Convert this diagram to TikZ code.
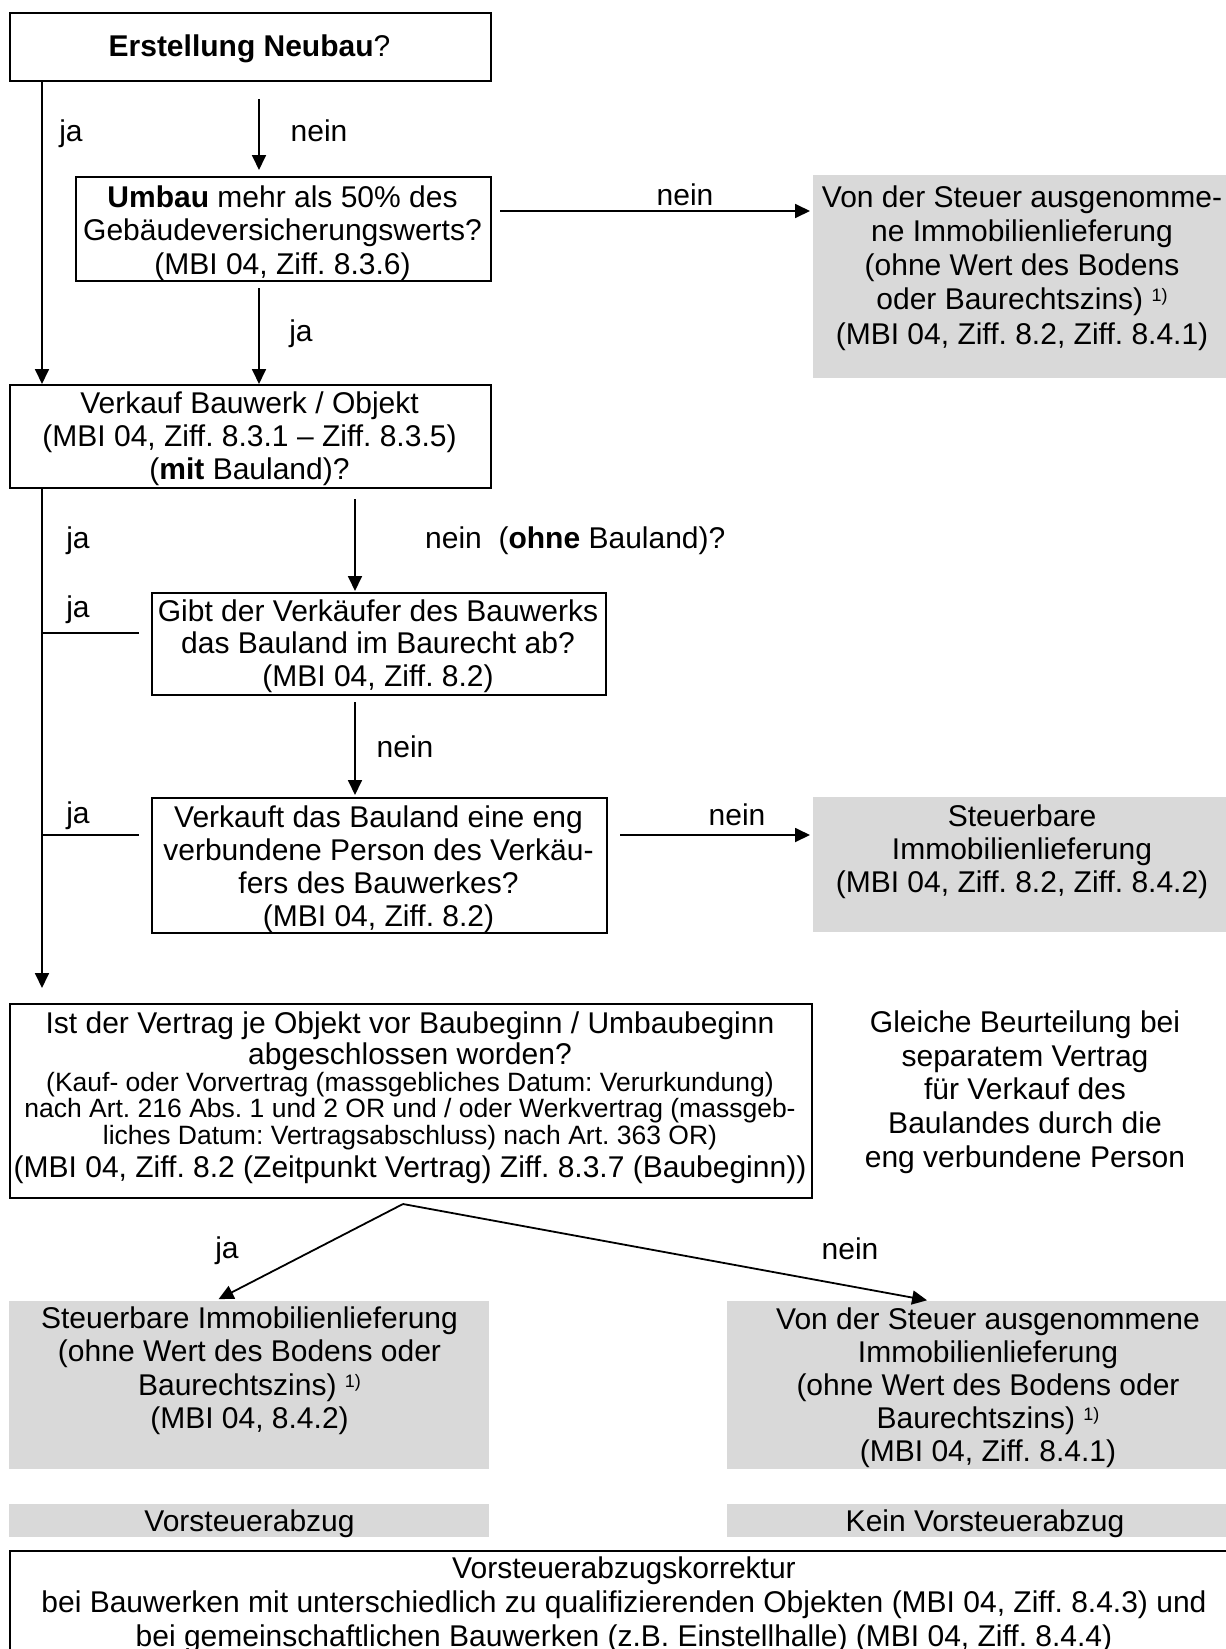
\documentclass[tikz,border=0pt]{standalone}
\usepackage{fontspec}
\setmainfont{Liberation Sans}
\usetikzlibrary{arrows.meta,calc}
\definecolor{boxgrey}{RGB}{217,217,217}
\newcommand{\topstrut}{\rule{0pt}{24pt}}
\newcommand{\fnmark}{\raisebox{8pt}{\fontsize{18}{18}\selectfont 1)}}
\frenchspacing
\tikzset{
  box/.style={draw, line width=2pt, inner sep=0pt, anchor=north west},
  greybox/.style={fill=boxgrey, draw=none, inner sep=0pt, anchor=north west},
  txt/.style={align=center, inner sep=0pt, anchor=north, font=\fontsize{30}{34}\selectfont},
  lbl/.style={inner sep=0pt, anchor=base, font=\fontsize{30}{34}\selectfont},
  arr/.style={line width=1.8pt, -{Triangle[length=15pt,width=14pt]}},
  ln/.style={line width=1.8pt},
}
\begin{document}
\begin{tikzpicture}[x=1pt,y=-1pt]
\useasboundingbox (0,0) rectangle (1226,1649);
\clip (0,0) rectangle (1226,1649);
\fill[white] (0,0) rectangle (1226,1649);

% boxes
\node[box, minimum width=481pt, minimum height=68pt] (neubau) at (9,12) {};
\node[box, minimum width=415pt, minimum height=104pt] (umbau) at (75,176) {};
\node[box, minimum width=481pt, minimum height=103pt] (verkauf) at (9,384) {};
\node[box, minimum width=454pt, minimum height=102pt] (gibt) at (151,592) {};
\node[box, minimum width=455pt, minimum height=135pt] (verkauft) at (151,797) {};
\node[box, minimum width=802pt, minimum height=194pt] (ist) at (9,1003) {};
\node[greybox, minimum width=427pt, minimum height=203pt] (grey1) at (813,175) {};
\node[greybox, minimum width=427pt, minimum height=135pt] (grey2) at (813,797) {};
\node[greybox, minimum width=480pt, minimum height=168pt] (grey3) at (9,1301) {};
\node[greybox, minimum width=513pt, minimum height=168pt] (grey4) at (727,1301) {};
\node[greybox, minimum width=480pt, minimum height=33pt] (vorst) at (9,1504) {};
\node[greybox, minimum width=513pt, minimum height=33pt] (kein) at (727,1504) {};
\node[box, minimum width=1231pt, minimum height=120pt] (korr) at (9,1550) {};

% texts
\node[txt] (neubaut) at (249.5,32.5) {\topstrut\textbf{Erstellung Neubau}?};
\node[txt, font=\fontsize{30}{33.5}\selectfont] (umbaut) at (282.5,183)
  {\topstrut\textbf{Umbau} mehr als 50\% des\\Gebäudeversicherungswerts?\\(MBI 04, Ziff. 8.3.6)};
\node[txt, font=\fontsize{30}{33}\selectfont] (verkauft0) at (249.5,389)
  {\topstrut Verkauf Bauwerk / Objekt\\(MBI 04, Ziff. 8.3.1 – Ziff. 8.3.5)\\(\textbf{mit} Bauland)?};
\node[txt, font=\fontsize{30}{32.5}\selectfont] (gibtt) at (378,597)
  {\topstrut Gibt der Verkäufer des Bauwerks\\das Bauland im Baurecht ab?\\(MBI 04, Ziff. 8.2)};
\node[txt, font=\fontsize{30}{33}\selectfont] (verkaufttt) at (378.5,803)
  {\topstrut Verkauft das Bauland eine eng\\verbundene Person des Verkäu-\\fers des Bauwerkes?\\(MBI 04, Ziff. 8.2)};
\node[txt, font=\fontsize{30}{30}\selectfont] (istt) at (410,1009)
  {\topstrut Ist der Vertrag je Objekt vor Baubeginn / Umbaubeginn\\[1pt]
   abgeschlossen worden?\\[-3pt]
   {\fontsize{26.5}{27}\selectfont (Kauf- oder Vorvertrag (massgebliches Datum: Verurkundung)}\\[-4pt]
   {\fontsize{26.5}{27}\selectfont nach Art. 216 Abs. 1 und 2 OR und / oder Werkvertrag (massgeb-}\\[-3pt]
   {\fontsize{26.5}{27}\selectfont liches Datum: Vertragsabschluss) nach Art. 363 OR)}\\[3pt]
   (MBI 04, Ziff. 8.2 (Zeitpunkt Vertrag) Ziff. 8.3.7 (Baubeginn))};
\node[txt, font=\fontsize{30}{33.8}\selectfont] (gleich) at (1025,1008)
  {\topstrut Gleiche Beurteilung bei\\separatem Vertrag\\für Verkauf des\\Baulandes durch die\\eng verbundene Person};
\node[txt, font=\fontsize{30}{34.2}\selectfont] (grey1t) at (1022,183)
  {\topstrut Von der Steuer ausgenomme-\\ne Immobilienlieferung\\(ohne Wert des Bodens\\oder Baurechtszins) \fnmark\\(MBI 04, Ziff. 8.2, Ziff. 8.4.1)};
\node[txt, font=\fontsize{30}{33}\selectfont] (grey2t) at (1022,802)
  {\topstrut Steuerbare\\Immobilienlieferung\\(MBI 04, Ziff. 8.2, Ziff. 8.4.2)};
\node[txt, font=\fontsize{30}{33.4}\selectfont] (grey3t) at (249.5,1304)
  {\topstrut Steuerbare Immobilienlieferung\\(ohne Wert des Bodens oder\\Baurechtszins) \fnmark\\(MBI 04, 8.4.2)};
\node[txt, font=\fontsize{30}{33}\selectfont] (grey4t) at (988,1305)
  {\topstrut Von der Steuer ausgenommene\\Immobilienlieferung\\(ohne Wert des Bodens oder\\Baurechtszins) \fnmark\\(MBI 04, Ziff. 8.4.1)};
\node[txt] (vorstt) at (249.5,1507) {\topstrut Vorsteuerabzug};
\node[txt] (keint) at (985,1507) {\topstrut Kein Vorsteuerabzug};
\node[txt, font=\fontsize{30}{34}\selectfont] (korrt) at (624,1554)
  {\topstrut Vorsteuerabzugskorrektur\\bei Bauwerken mit unterschiedlich zu qualifizierenden Objekten (MBI 04, Ziff. 8.4.3) und\\bei gemeinschaftlichen Bauwerken (z.B. Einstellhalle) (MBI 04, Ziff. 8.4.4)};

% connector coordinates
\coordinate (t1) at ([xshift=33pt]neubau.south west);
\coordinate (t2) at (t1 |- verkauf.south);
\coordinate (n1) at ([xshift=250pt]neubau.south west);
\coordinate (u1) at ([yshift=-35pt]umbau.north east);
\coordinate (u2) at (n1 |- umbau.south);
\coordinate (v1) at ([xshift=346pt]verkauf.south west);
\coordinate (g1) at (v1 |- gibt.south);
\coordinate (g2) at ([yshift=-41pt]gibt.north west);
\coordinate (w1) at ([yshift=-38pt]verkauft.north east);
\coordinate (w2) at ([yshift=-38pt]verkauft.north west);
\coordinate (d0) at ([xshift=394pt,yshift=-5pt]ist.south west);
\coordinate (d1) at ([xshift=206pt]grey3.north west);
\coordinate (d2) at ([xshift=204pt]grey4.north west);

% connectors
\draw[arr] (t1) -- (t1 |- verkauf.north);
\draw[arr, shorten <=17pt, shorten >=6pt] (n1) -- (n1 |- umbau.north);
\draw[arr, shorten <=8pt, shorten >=3pt] (u1) -- (u1 -| grey1.west);
\draw[arr, shorten <=6pt] (u2) -- (u2 |- verkauf.north);
\draw[arr, shorten <=10pt, shorten >=1pt] (v1) -- (v1 |- gibt.north);
\draw[arr, shorten <=6pt, shorten >=2pt] (g1) -- (g1 |- verkauft.north);
\draw[arr, shorten <=12pt, shorten >=3pt] (w1) -- (w1 -| grey2.west);
\draw[arr, shorten >=15pt] (t2) -- (t2 |- ist.north);
\draw[ln, shorten >=12pt] (g2 -| t1) -- (g2);
\draw[ln, shorten >=12pt] (w2 -| t1) -- (w2);
\draw[arr, shorten >=4pt] (d0) -- (d1);
\draw[arr, shorten >=4pt] (d0) -- (d2);

% labels
\node[lbl] (l1) at (71,141) {ja};
\node[lbl] (l2) at (319,141) {nein};
\node[lbl] (l3) at (685,205) {nein};
\node[lbl] (l4) at (301,341) {ja};
\node[lbl] (l5) at (78,548) {ja};
\node[lbl, anchor=base west] (l6) at (425,548) {nein\ \ (\textbf{ohne} Bauland)?};
\node[lbl] (l7) at (78,617) {ja};
\node[lbl] (l8) at (405,757) {nein};
\node[lbl] (l9) at (78,823) {ja};
\node[lbl] (l10) at (737,825) {nein};
\node[lbl] (l11) at (227,1258) {ja};
\node[lbl] (l12) at (850,1259) {nein};
\end{tikzpicture}
\end{document}
